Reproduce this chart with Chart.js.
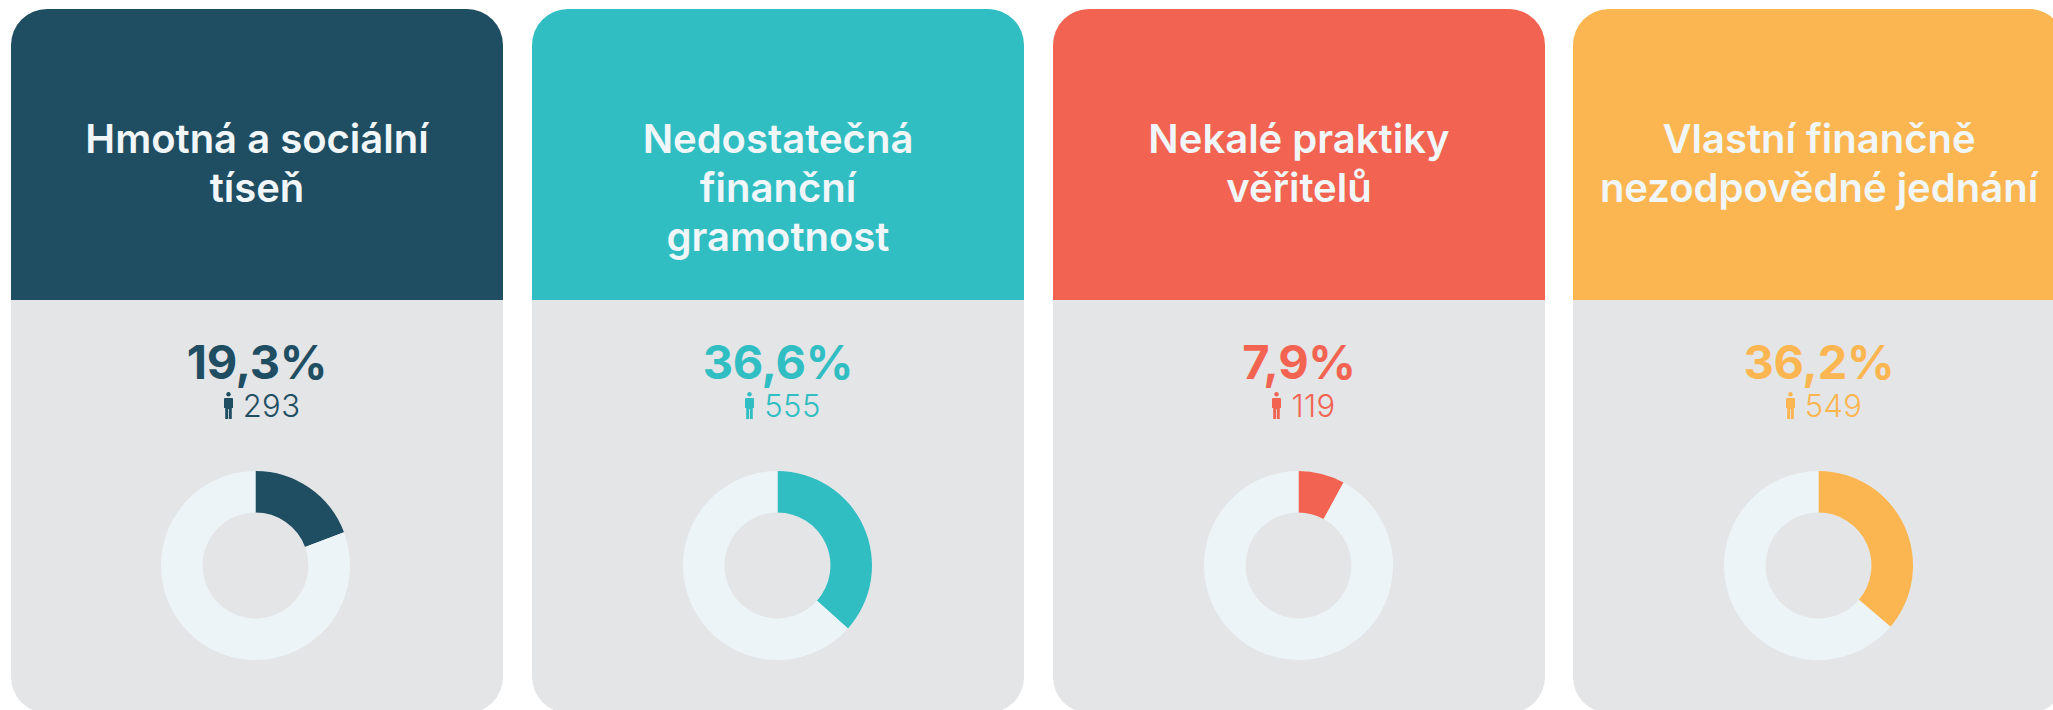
<!DOCTYPE html>
<html lang="cs">
<head>
<meta charset="utf-8">
<title>Příčiny předlužení</title>
<script src="https://cdn.jsdelivr.net/npm/chart.js@4/dist/chart.umd.min.js"></script>
<style>
    html, body { margin: 0; padding: 0; width: 2053px; height: 710px; overflow: hidden; background: #fff; font-family: Inter, "Noto Sans", sans-serif; }
    .card { position: absolute; top: 9px; width: 492px; height: 704px; }
    .head { height: 291px; box-sizing: border-box; padding-top: 105px; border-radius: 36px 36px 0 0; text-align: center; color: #f1f6f9; font-size: 40px; line-height: 49px; font-weight: 600; }
    .body { height: 413px; border-radius: 0 0 36px 36px; background: #e4e5e7; }
    .pct { position: absolute; top: 325px; left: 0; width: 100%; text-align: center; font-size: 47px; line-height: 56px; font-weight: 700; letter-spacing: -0.3px; }
    .count { position: absolute; top: 378px; left: 5px; width: 100%; text-align: center; font-size: 31px; line-height: 38px; font-weight: 300; letter-spacing: 0.4px; }
    .count svg { width: 9px; height: 27px; margin-right: 10px; vertical-align: -2px; }
    canvas { position: absolute; top: 462px; }
</style>
</head>
<body>
<script>
    // data
    const categories = ['Hmotná a sociální<br>tíseň', 'Nedostatečná<br>finanční<br>gramotnost', 'Nekalé praktiky<br>věřitelů', 'Vlastní finančně<br>nezodpovědné jednání'];
    const percents = [19.3, 36.6, 7.9, 36.2];
    const percentLabels = ['19,3%', '36,6%', '7,9%', '36,2%'];
    const counts = [293, 555, 119, 549];
    const colors = ['#1f4e63', '#31bec3', '#f26451', '#fbb651'];
    const cardLefts = [11, 532, 1053, 1573];
    const donutLefts = [150, 151, 151, 151];

    const personIcon = '<svg viewBox="0 0 9 27"><circle cx="4.5" cy="2.2" r="2.2"/><path d="M1 6h7a1 1 0 0 1 1 1v9H7.8V27H4.9V17H4.1v10H1.2V16H0V7a1 1 0 0 1 1-1z"/></svg>';

    categories.forEach((category, i) => {
        const card = document.createElement('div');
        card.className = 'card';
        card.style.left = cardLefts[i] + 'px';
        card.innerHTML = `<div class="head" style="background:${colors[i]}">${category}</div>
            <div class="body"></div>
            <div class="pct" style="color:${colors[i]}">${percentLabels[i]}</div>
            <div class="count" style="color:${colors[i]};fill:${colors[i]}">${personIcon}${counts[i]}</div>
            <canvas width="189" height="189" style="left:${donutLefts[i]}px;width:189px;height:189px"></canvas>`;
        document.body.appendChild(card);

        new Chart(card.querySelector('canvas'), {
            type: 'doughnut',
            data: {
                labels: ['Podíl', 'Zbytek'],
                datasets: [{
                    data: [percents[i], 100 - percents[i]],
                    backgroundColor: [colors[i], '#edf4f8'],
                    borderWidth: 0
                }]
            },
            options: {
                responsive: false,
                animation: false,
                cutout: '56%',
                plugins: { legend: { display: false }, tooltip: { enabled: false } }
            }
        });
    });
</script>
</body>
</html>
